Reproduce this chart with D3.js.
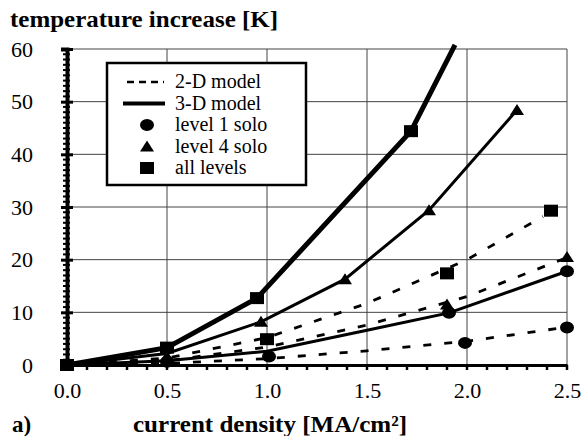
<!DOCTYPE html>
<html>
<head>
<meta charset="utf-8">
<script src="https://cdn.jsdelivr.net/npm/d3@7"></script>
<style>
  body { margin: 0; background: #fff; }
</style>
</head>
<body>
<div id="chart"></div>
<script>
// current density [MA/cm2] vs temperature increase [K]
const model3dAll = [[0, 0], [0.5, 3.3], [0.95, 12.7], [1.72, 44.4], [1.94, 60.8]];
const model3dLevel4 = [[0, 0], [0.5, 2.2], [0.97, 8.2], [1.39, 16.3], [1.81, 29.4], [2.25, 48.4]];
const model3dLevel1 = [[0, 0], [0.5, 0.8], [1.0, 2.6], [1.5, 6.6], [1.91, 9.9], [2.5, 17.8]];
const model2dAll = [[0, 0], [0.5, 1.3], [1.0, 5.2], [1.5, 11.7], [2.0, 20.0], [2.38, 28.2]];
const model2dLevel4 = [[0, 0], [0.5, 0.8], [1.0, 3.4], [1.5, 7.6], [2.0, 13.0], [2.5, 20.4]];
const model2dLevel1 = [[0, 0], [0.5, 0.3], [1.0, 1.2], [1.5, 2.7], [2.0, 4.5], [2.5, 7.2]];

const squares = [[0, 0], [0.5, 3.3], [0.95, 12.7], [1.0, 4.9], [1.72, 44.4], [1.9, 17.4], [2.42, 29.3]];
const triangles = [[0.5, 1.6], [0.97, 8.2], [1.39, 16.3], [1.81, 29.4], [1.9, 11.5], [2.25, 48.4], [2.5, 20.5]];
const circles = [[0.5, 0.6], [1.01, 1.6], [1.91, 9.9], [1.99, 4.2], [2.5, 17.8], [2.5, 7.1]];

const xMajor = [0, 0.5, 1.0, 1.5, 2.0, 2.5];
const yMajor = [0, 10, 20, 30, 40, 50, 60];
const legendItems = ['2-D model', '3-D model', 'level 1 solo', 'level 4 solo', 'all levels'];

const serif = 'Liberation Serif';
const width = 585;
const height = 436;
const margin = { top: 49, right: 18, bottom: 71, left: 67 };

const svg = d3.select('#chart').append('svg')
  .attr('width', width)
  .attr('height', height)
  .attr('font-family', serif);

const x = d3.scaleLinear().domain([0, 2.5]).range([margin.left, width - margin.right]);
const y = d3.scaleLinear().domain([0, 60]).range([height - margin.bottom, margin.top]);

// grid
svg.append('g').selectAll('line')
  .data(xMajor.slice(1))
  .enter().append('line')
    .attr('x1', d => x(d)).attr('x2', d => x(d))
    .attr('y1', y(0)).attr('y2', y(60))
    .attr('stroke', '#444').attr('stroke-width', 1);
svg.append('g').selectAll('line')
  .data(yMajor.slice(1))
  .enter().append('line')
    .attr('x1', x(0)).attr('x2', x(2.5))
    .attr('y1', d => y(d)).attr('y2', d => y(d))
    .attr('stroke', '#444').attr('stroke-width', 1);

// axes
const yAxis = svg.append('g')
  .attr('transform', `translate(${x(0)},0)`)
  .call(d3.axisLeft(y).tickValues(yMajor).tickSize(6).tickPadding(28).tickFormat(d3.format('d')))
  .attr('font-family', serif)
  .attr('font-size', 22);
yAxis.select('.domain').attr('stroke-width', 4);
yAxis.selectAll('.tick line').attr('stroke-width', 3).attr('x2', 6).attr('x1', -6);

svg.append('g')
  .selectAll('line')
  .data(d3.range(0, 61, 1).filter(d => d % 10 !== 0))
  .enter().append('line')
    .attr('x1', x(0) - 4).attr('x2', x(0) + 3)
    .attr('y1', d => y(d)).attr('y2', d => y(d))
    .attr('stroke', '#000').attr('stroke-width', 2);

const xAxis = svg.append('g')
  .attr('transform', `translate(0,${y(0)})`)
  .call(d3.axisBottom(x).tickValues(xMajor).tickSize(0).tickPadding(17).tickFormat(d3.format('.1f')))
  .attr('font-family', serif)
  .attr('font-size', 22);
xAxis.select('.domain').attr('stroke-width', 3);

svg.append('g')
  .selectAll('line')
  .data(d3.range(1, 26).map(d => d / 10))
  .enter().append('line')
    .attr('x1', d => x(d)).attr('x2', d => x(d))
    .attr('y1', y(0)).attr('y2', y(0) + 5)
    .attr('stroke', '#000').attr('stroke-width', 2.5);

// model lines
const line = d3.line().x(d => x(d[0])).y(d => y(d[1]));
const lineSpecs = [
  { data: model2dAll, w: 2.8, dash: '8,13' },
  { data: model2dLevel4, w: 2.8, dash: '8,13' },
  { data: model2dLevel1, w: 2.8, dash: '8,13' },
  { data: model3dLevel1, w: 3, dash: null },
  { data: model3dLevel4, w: 3, dash: null },
  { data: model3dAll, w: 5, dash: null },
];
svg.append('g').selectAll('path')
  .data(lineSpecs)
  .enter().append('path')
    .attr('d', d => line(d.data))
    .attr('fill', 'none')
    .attr('stroke', '#000')
    .attr('stroke-width', d => d.w)
    .attr('stroke-dasharray', d => d.dash);

// markers
const marks = svg.append('g');
marks.selectAll('.sq')
  .data(squares)
  .enter().append('rect')
    .attr('x', d => x(d[0]) - 7).attr('y', d => y(d[1]) - 6)
    .attr('width', 14).attr('height', 12);
marks.selectAll('.ci')
  .data(circles)
  .enter().append('ellipse')
    .attr('cx', d => x(d[0])).attr('cy', d => y(d[1]))
    .attr('rx', 7).attr('ry', 6);
const tri = 'M0,-6L7,5L-7,5Z';
marks.selectAll('.tr')
  .data(triangles)
  .enter().append('path')
    .attr('d', tri)
    .attr('transform', d => `translate(${x(d[0])},${y(d[1])})`);

// legend
const legend = svg.append('g');
legend.append('rect')
  .attr('x', 107).attr('y', 63).attr('width', 199).attr('height', 122)
  .attr('fill', '#fff').attr('stroke', '#000').attr('stroke-width', 2.5);
legendItems.forEach((t, i) => {
  const cy = 82 + i * 21.5;
  legend.append('text')
    .attr('x', 175).attr('y', cy + 6)
    .attr('font-size', 20)
    .text(t);
  if (i === 0) {
    legend.append('line').attr('x1', 127).attr('x2', 164).attr('y1', cy).attr('y2', cy)
      .attr('stroke', '#000').attr('stroke-width', 2.5).attr('stroke-dasharray', '7,5');
  } else if (i === 1) {
    legend.append('line').attr('x1', 123).attr('x2', 165).attr('y1', cy).attr('y2', cy)
      .attr('stroke', '#000').attr('stroke-width', 4);
  } else if (i === 2) {
    legend.append('ellipse').attr('cx', 147).attr('cy', cy).attr('rx', 7).attr('ry', 6);
  } else if (i === 3) {
    legend.append('path').attr('d', tri).attr('transform', `translate(147,${cy})`);
  } else {
    legend.append('rect').attr('x', 140).attr('y', cy - 6).attr('width', 14).attr('height', 12);
  }
});

// titles
svg.append('text')
  .attr('x', 10).attr('y', 27)
  .attr('font-size', 23).attr('font-weight', 'bold')
  .attr('textLength', 268).attr('lengthAdjust', 'spacingAndGlyphs')
  .text('temperature increase [K]');
svg.append('text')
  .attr('x', 12).attr('y', 432)
  .attr('font-size', 23).attr('font-weight', 'bold')
  .text('a)');
svg.append('text')
  .attr('x', 133).attr('y', 432)
  .attr('font-size', 23).attr('font-weight', 'bold')
  .attr('textLength', 274).attr('lengthAdjust', 'spacingAndGlyphs')
  .text('current density [MA/cm²]');
</script>
</body>
</html>
